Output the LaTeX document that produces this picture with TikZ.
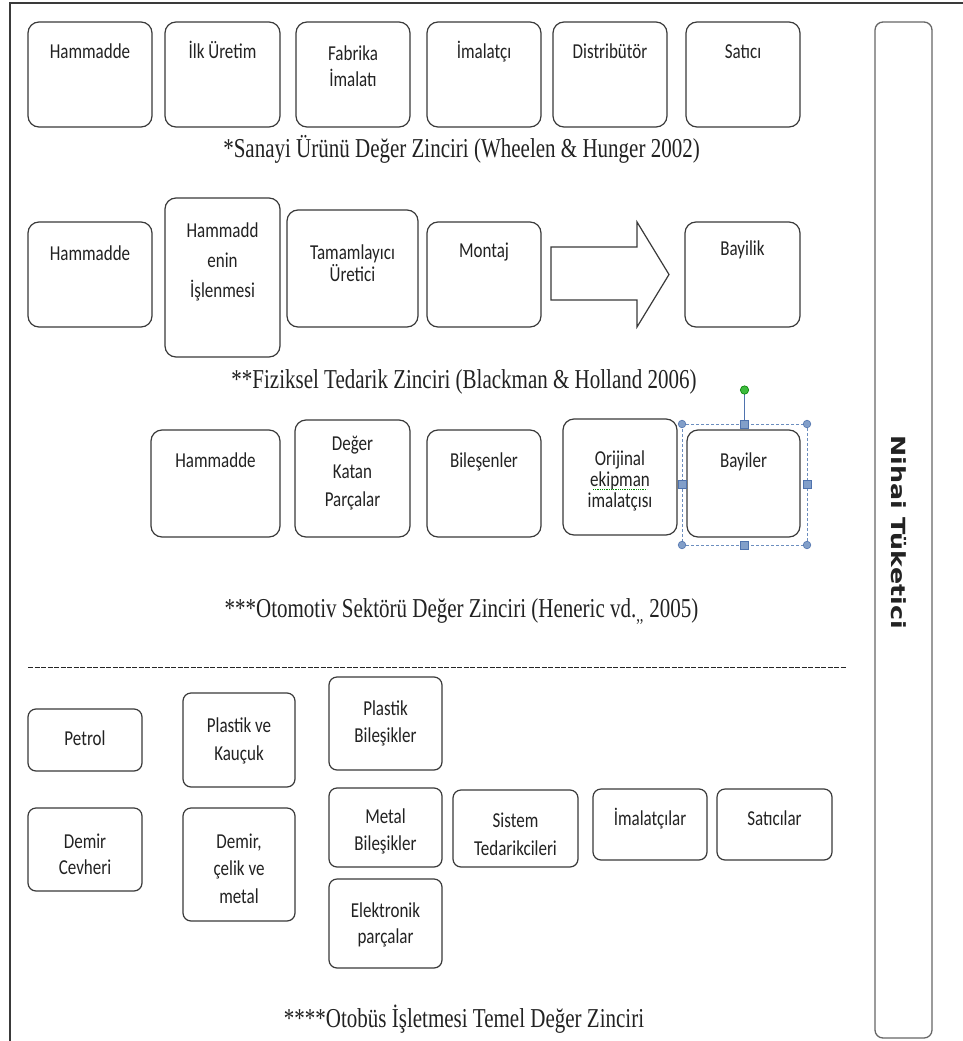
\documentclass[tikz,border=0pt]{standalone}
\usepackage{fontspec}
\usepackage{graphicx}
\setmainfont{Carlito}
\newfontfamily\capfont{Liberation Serif}
\newfontfamily\sidefont{DejaVu Sans}

\definecolor{edge}{HTML}{3A3A3A}
\definecolor{txt}{HTML}{222222}
\definecolor{sel}{HTML}{6C8EBF}
\definecolor{seldark}{HTML}{4F73AE}
\definecolor{rotg}{HTML}{3DBB3D}

% stage label: Carlito, slightly stretched vertically; optional row distance
\newcommand\lbl[2][22]{\scalebox{1}[1.25]{\fontsize{17}{#1}\selectfont\begin{tabular}[t]{@{}c@{}}#2\end{tabular}}}
% caption text under each chain
\newcommand\captxt[1]{\scalebox{1}[1.3]{\capfont\fontsize{21}{25}\selectfont #1}}

\tikzset{
  stagebox/.style={draw=edge, line width=1.2pt, rounded corners=11pt, fill=white, inner sep=0pt, outer sep=0pt},
  smallbox/.style={rounded corners=8pt},
  stagelbl/.style={anchor=base, inner sep=0pt, text=txt},
  caption/.style={anchor=base, inner sep=0pt, text=txt},
  sidebox/.style={draw=gray!80!black, line width=1.3pt, rounded corners=8pt, inner sep=0pt},
  handle/.style={fill=sel!85, draw=seldark, line width=0.6pt},
}

% #1 extra style, #2 name, #3 x1, #4 y1, #5 x2, #6 y2, #7 label baseline, #8 label
\newcommand\stage[8][]{%
  \node[stagebox,#1,minimum width={#5-#3},minimum height={#6-#4}] (#2) at ({(#3+#5)/2},{(#4+#6)/2}) {};
  \node[stagelbl] (#2-t) at ({(#3+#5)/2},#7) {#8};}

\begin{document}
\begin{tikzpicture}[x=1pt,y=-1pt]
\useasboundingbox (0,0) rectangle (963,1041);
\fill[white] (0,0) rectangle (963,1041);

% outer frame (top and left edges)
\coordinate (fr-tr) at (963,3);
\coordinate (fr-tl) at (10,3);
\coordinate (fr-bl) at (10,1041);
\draw[edge, line width=1.5pt] (fr-tr) -- (fr-tl) -- (fr-bl);

% final consumer column
\node[sidebox, minimum width=57pt, minimum height=1016pt] (nt) at (903.5,530) {};
\node[rotate=-90, inner sep=0pt, text=txt] (nt-t) at (899,532)
  {\scalebox{1.3}[1]{\sidefont\bfseries\fontsize{19.5}{22}\selectfont Nihai Tüketici}};

% chain 1
\stage{t1}{28}{22}{152}{127}{59}{\lbl{Hammadde}}
\stage{t2}{165}{22}{280}{127}{59}{\lbl{İlk Üretim}}
\stage{t3}{296}{22}{410}{127}{60}{\lbl[21.6]{Fabrika\\İmalatı}}
\stage{t4}{427}{22}{541}{127}{59}{\lbl{İmalatçı}}
\stage{t5}{553}{22}{667}{127}{59}{\lbl{Distribütör}}
\stage{t6}{686}{22}{800}{127}{59}{\lbl{Satıcı}}
\node[caption] (c1) at (461.5,157) {\captxt{*Sanayi Ürünü Değer Zinciri (Wheelen \& Hunger 2002)}};

% chain 2
\stage{f1}{28}{222}{152}{327}{260}{\lbl{Hammadde}}
\stage{f2}{165}{198}{280}{357}{237}{\lbl[24]{Hammadd\\enin\\İşlenmesi}}
\stage{f3}{287}{210}{418}{327}{259}{\lbl[14.5]{Tamamlayıcı\\Üretici}}
\stage{f4}{427}{222}{541}{327}{257}{\lbl{Montaj}}
\stage{f5}{685}{222}{800}{327}{255}{\lbl{Bayilik}}
% block arrow between assembly and dealership
\draw[edge, line width=1.2pt, fill=white, line join=miter]
  (551,247) -- (637,247) -- (637,222) -- (669,274.5) -- (637,327) -- (637,300) -- (551,300) -- cycle;
\node[caption] (c2) at (464,388) {\captxt{**Fiziksel Tedarik Zinciri (Blackman \& Holland 2006)}};

% chain 3
\stage{o1}{151}{430}{280}{537}{467}{\lbl{Hammadde}}
\stage{o2}{295}{420}{410}{537}{450}{\lbl[22.4]{Değer\\Katan\\Parçalar}}
\stage{o3}{427}{430}{541}{537}{467}{\lbl{Bileşenler}}
\stage{o4}{563}{419}{677}{535}{465}{\lbl[17]{Orijinal\\ekipman\\imalatçısı}}
\stage{o5}{687}{430}{800}{537}{467}{\lbl{Bayiler}}
% spell-check underline
\draw[green!55!black, line width=0.8pt, densely dotted] (593,489) -- (647,489);

% selection frame around the dealer box
\coordinate (s-nw) at (682,424);
\coordinate (s-se) at (807,545);
\coordinate (s-rot) at (744.5,390);
\draw[sel, line width=0.7pt, dash pattern=on 3pt off 2pt] (s-nw) rectangle (s-se);
\draw[seldark, line width=0.8pt] (744.5,424) -- (s-rot);
\foreach \p in {(682,424),(807,424),(682,545),(807,545)}
  \fill[handle] \p circle (3.8pt);
\foreach \p in {(744.5,424),(744.5,545),(682,484.5),(807,484.5)}
  \filldraw[handle] \p ++(-4,-4) rectangle ++(8,8);
\filldraw[fill=rotg, draw=green!50!black, line width=0.6pt] (s-rot) circle (4.2pt);

\node[caption] (c3) at (461.5,617) {\captxt{***Otomotiv Sektörü Değer Zinciri (Heneric vd.\textsubscript{,,} 2005)}};

% separator
\coordinate (sep-l) at (28,667);
\coordinate (sep-r) at (847,667);
\draw[black!85, line width=1pt, dash pattern=on 5pt off 1.5pt] (sep-l) -- (sep-r);

% chain 4
\stage[smallbox]{b1}{28}{709}{142}{771}{745}{\lbl{Petrol}}
\stage[smallbox]{b2}{183}{693}{295}{787}{732}{\lbl[22.4]{Plastik ve\\Kauçuk}}
\stage[smallbox]{b3}{329}{677}{442}{770}{715}{\lbl[21.6]{Plastik\\Bileşikler}}
\stage[smallbox]{b4}{28}{808}{142}{891}{848}{\lbl[20.8]{Demir\\Cevheri}}
\stage[smallbox]{b5}{183}{808}{295}{921}{848}{\lbl[22]{Demir,\\çelik ve\\metal}}
\stage[smallbox]{b6}{329}{788}{442}{867}{823}{\lbl[21.6]{Metal\\Bileşikler}}
\stage[smallbox]{b7}{329}{879}{442}{968}{917}{\lbl[20.8]{Elektronik\\parçalar}}
\stage[smallbox]{b8}{453}{790}{578}{867}{827}{\lbl[22.4]{Sistem\\Tedarikcileri}}
\stage[smallbox]{b9}{593}{789}{707}{860}{825}{\lbl{İmalatçılar}}
\stage[smallbox]{b10}{717}{789}{832}{860}{825}{\lbl{Satıcılar}}
\node[caption] (c4) at (464,1027) {\captxt{****Otobüs İşletmesi Temel Değer Zinciri}};

\end{tikzpicture}
\end{document}
